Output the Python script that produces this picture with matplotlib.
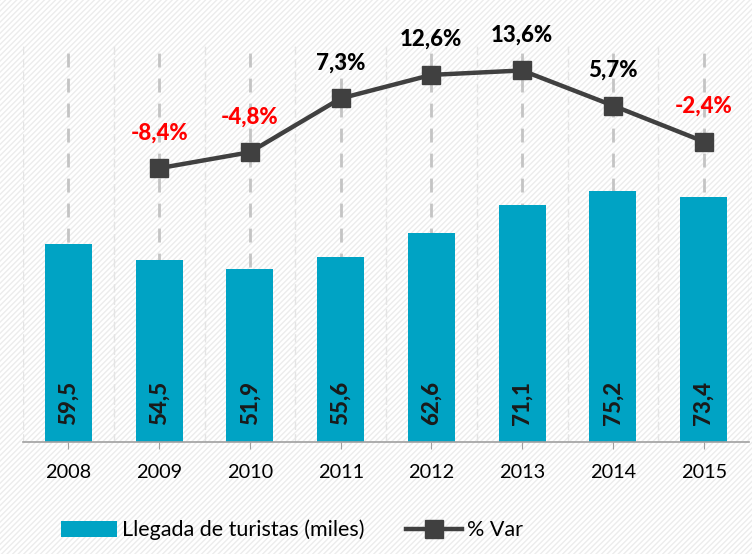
import matplotlib.pyplot as plt
import numpy as np

years = ["2008", "2009", "2010", "2011", "2012", "2013", "2014", "2015"]
llegadas = [59.5, 54.5, 51.9, 55.6, 62.6, 71.1, 75.2, 73.4]
var_years = ["2009", "2010", "2011", "2012", "2013", "2014", "2015"]
var_pct = [-8.4, -4.8, 7.3, 12.6, 13.6, 5.7, -2.4]

plt.rcParams['font.family'] = ['Lato', 'DejaVu Sans']
plt.rcParams['hatch.color'] = '#ececec'
plt.rcParams['hatch.linewidth'] = 1.0

W, H = 752, 554
fig = plt.figure(figsize=(W / 100, H / 100), dpi=100)
fig.patch.set_facecolor('white')
fig.patch.set_hatch('//////')
fig.patch.set_edgecolor('#ececec')
fig.patch.set_linewidth(0)

ax = fig.add_axes([23 / W, (H - 442) / H, 726 / W, 400 / H])
ax.patch.set_alpha(0)
x = np.arange(len(years))
xv = np.array([years.index(y) for y in var_years])

# faint separators between categories, dashed guides at centers
for b in np.arange(len(years) + 1) - 0.5:
    ax.axvline(b, color='#e4e4e4', lw=1.0, ls=(0, (6, 3)), zorder=0)
for c in x:
    ax.axvline(c, color='#c4c4c4', lw=2.0, ls=(0, (5, 4)), zorder=0)

bars = ax.bar(x, llegadas, width=0.52, color='#00a3c4', zorder=2,
              label='Llegada de turistas (miles)')
for xi, v in zip(x, llegadas):
    ax.text(xi, 5, f"{v:.1f}".replace('.', ','), rotation=90, ha='center',
            va='bottom', fontsize=16, fontweight='black', color='#1a1a1a', zorder=3)

ax.set_xlim(-0.5, len(years) - 0.5)
ax.set_ylim(0, 120)
ax.set_yticks([])
ax.set_xticks(x)
ax.set_xticklabels(years, fontsize=14.3)
ax.tick_params(axis='x', length=5, color='#a0a0a0', pad=11)
for s in ['top', 'right', 'left']:
    ax.spines[s].set_visible(False)
ax.spines['bottom'].set_color('#a0a0a0')
ax.spines['bottom'].set_linewidth(1.2)

ax2 = ax.twinx()
ax2.set_ylim(-70, 20)
ax2.set_yticks([])
for s in ax2.spines.values():
    s.set_visible(False)
line, = ax2.plot(xv, var_pct, color='#404040', lw=3.2, marker='s',
                 markersize=13, zorder=4, label='% Var')
for xi, v in zip(xv, var_pct):
    ax2.annotate(f"{v:.1f}%".replace('.', ','), (xi, v), xytext=(0, 18),
                 textcoords='offset points', ha='center', va='bottom',
                 fontsize=16, fontweight='black',
                 color='#ff0000' if v < 0 else '#000000')

fig.legend(handles=[bars, line], loc='center', bbox_to_anchor=(292 / W, (H - 530) / H),
           ncol=2, frameon=False, fontsize=15.5, handlelength=2.6, handleheight=0.75,
           handletextpad=0.25, columnspacing=1.9)

fig.savefig('out.png', dpi=100)
